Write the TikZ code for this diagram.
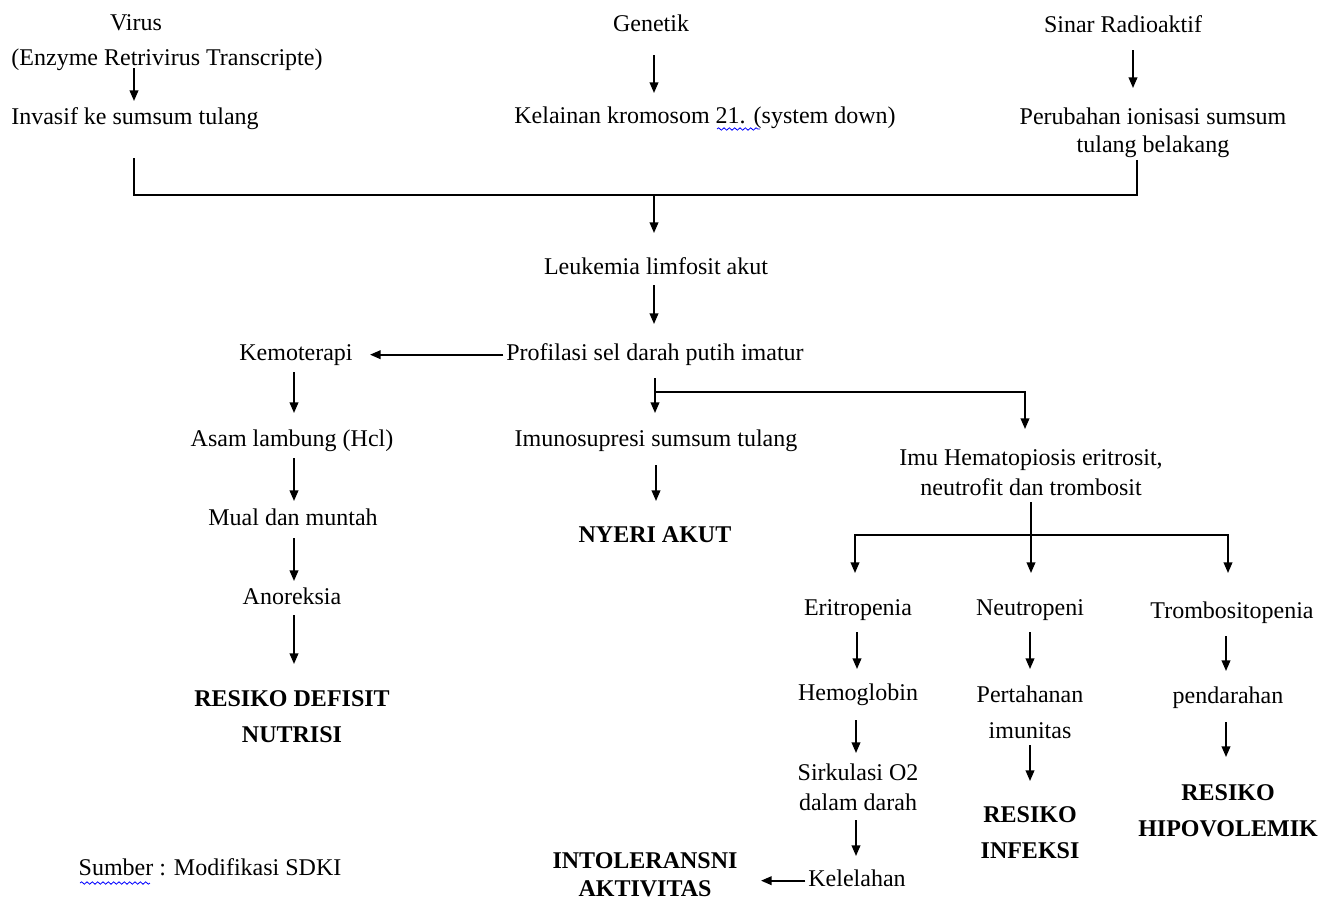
\documentclass[tikz,border=0pt]{standalone}
\usepackage{fontspec}
\setmainfont{Liberation Serif}
\usetikzlibrary{arrows.meta,decorations.pathmorphing,calc}
\begin{document}
\begin{tikzpicture}[x=0.75pt,y=-0.75pt,
  t/.style={font=\fontsize{18}{21.6}\selectfont, inner sep=2pt, text height=12.6pt, text depth=4.5pt, yshift=-2pt},
  ml/.style={font=\fontsize{18}{#1}\selectfont, align=center, inner sep=2pt, yshift=-2pt},
  bl/.style={font=\fontsize{18}{#1}\selectfont\bfseries, align=center, inner sep=2pt, yshift=-2pt},
  ln/.style={draw=black, line width=1.3pt},
  arr/.style={ln, -{Triangle[length=8pt,width=6.5pt]}},
  wavy/.style={draw=blue, line width=0.6pt, decorate, decoration={snake,amplitude=0.9pt,segment length=4pt}}]
\fill[white] (0,0) rectangle (1334,904);
\useasboundingbox (0,0) rectangle (1334,904);

% top causes
\node[t] (virus) at (136,22) {Virus};
\node[t] (enz) at (167,57) {(Enzyme Retrivirus Transcripte)};
\node[t] (inv) at (135,116) {Invasif ke sumsum tulang};
\node[t] (gen) at (651,23) {Genetik};
\node[t] (kel) at (705,115) {Kelainan kromosom 21. (system down)};
\node[t] (sinar) at (1123,24) {Sinar Radioaktif};
\node[ml=21pt] (perub) at (1153,130) {Perubahan ionisasi sumsum\\tulang belakang};

% centre
\node[t] (leuk) at (656,266) {Leukemia limfosit akut};
\node[t] (prof) at (655,352) {Profilasi sel darah putih imatur};
\node[t] (imuno) at (656,438) {Imunosupresi sumsum tulang};
\node[bl=27pt] (nyeri) at (655,532) {NYERI AKUT};

% left branch
\node[t] (kemo) at (296,352) {Kemoterapi};
\node[t] (asam) at (292,438) {Asam lambung (Hcl)};
\node[t] (mual) at (293,517) {Mual dan muntah};
\node[t] (anor) at (292,596) {Anoreksia};
\node[bl=27pt] (rdn) at (292,714) {RESIKO DEFISIT\\NUTRISI};

% right branch
\node[ml=22.5pt] (hema) at (1031,470) {Imu Hematopiosis eritrosit,\\neutrofit dan trombosit};
\node[t] (eri) at (858,607) {Eritropenia};
\node[t] (neu) at (1030,607) {Neutropeni};
\node[t] (trom) at (1232,610) {Trombositopenia};
\node[t] (hemo) at (858,692) {Hemoglobin};
\node[ml=27pt] (perta) at (1030,710) {Pertahanan\\imunitas};
\node[t] (pend) at (1228,695) {pendarahan};
\node[ml=22.5pt] (sirk) at (858,785) {Sirkulasi O2\\dalam darah};
\node[bl=27pt] (rinf) at (1030,830) {RESIKO\\INFEKSI};
\node[bl=27pt] (rhip) at (1228,808) {RESIKO\\HIPOVOLEMIK};
\node[t] (kelel) at (857,878) {Kelelahan};
\node[bl=21.5pt] (intol) at (645,872) {INTOLERANSNI\\AKTIVITAS};

\node[t] (sumber) at (210,867) {Sumber : Modifikasi SDKI};

% spell-check underlines
\draw[wavy] (717,129) -- (760,129);
\draw[wavy] (80,883) -- (150,883);

% connectors, top
\draw[arr] ($(inv |- 0,68)+(-1,0)$) -- ($(inv |- 0,101)+(-1,0)$);
\draw[arr] ($(gen |- 0,55)+(3,0)$) -- ($(gen |- 0,93)+(3,0)$);
\draw[arr] ($(sinar |- 0,50)+(10,0)$) -- ($(sinar |- 0,88)+(10,0)$);
\coordinate (bL) at (134,158);
\coordinate (bR) at (1137,160);
\draw[ln] (bL) |- (bR |- 0,195) -- (bR);
\draw[arr] ($(leuk |- 0,195)+(-2,0)$) -- ($(leuk |- 0,233)+(-2,0)$);
\draw[arr] ($(leuk |- 0,285)+(-2,0)$) -- ($(prof |- 0,324)+(-1,0)$);

% left
\draw[arr] (prof.west) -- (370,0 |- kemo);
\draw[arr] ($(kemo |- 0,372)+(-2,0)$) -- ($(kemo |- 0,413)+(-2,0)$);
\draw[arr] ($(asam |- 0,458)+(2,0)$) -- ($(asam |- 0,501)+(2,0)$);
\draw[arr] ($(mual |- 0,538)+(1,0)$) -- ($(mual |- 0,581)+(1,0)$);
\draw[arr] ($(anor |- 0,615)+(2,0)$) -- ($(anor |- 0,664)+(2,0)$);

% centre
\draw[arr] (prof |- 0,378) -- (prof |- 0,413);
\draw[arr] (prof |- 0,392) -| ($(hema |- 0,429)+(-6,0)$);
\draw[arr] (imuno |- 0,465) -- (imuno |- 0,501);

% right
\draw[arr] (hema |- 0,502) -- (hema |- 0,573);
\draw[arr] (hema |- 0,535) -| ($(eri |- 0,573)+(-3,0)$);
\draw[arr] (hema |- 0,535) -| (pend |- 0,573);
\draw[arr] ($(eri |- 0,632)+(-1,0)$) -- ($(hemo |- 0,669)+(-1,0)$);
\draw[arr] (neu |- 0,632) -- (perta |- 0,669);
\draw[arr] ($(trom |- 0,636)+(-6,0)$) -- ($(pend |- 0,671)+(-2,0)$);
\draw[arr] ($(hemo |- 0,720)+(-2,0)$) -- ($(sirk |- 0,753)+(-2,0)$);
\draw[arr] (perta |- 0,745) -- (rinf |- 0,781);
\draw[arr] ($(pend |- 0,722)+(-2,0)$) -- ($(rhip |- 0,757)+(-2,0)$);
\draw[arr] ($(sirk |- 0,820)+(-2,0)$) -- ($(kelel |- 0,856)+(-1,0)$);
\draw[arr] (kelel.west) -- (761,0 |- kelel);
\end{tikzpicture}
\end{document}
